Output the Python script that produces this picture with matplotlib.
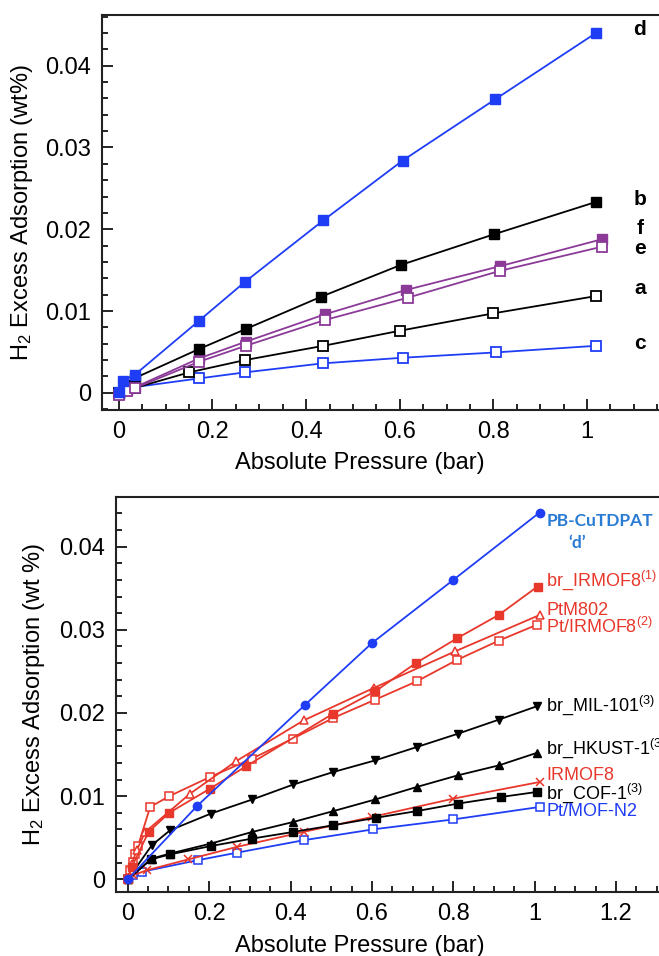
import matplotlib
matplotlib.use("Agg")
import matplotlib.pyplot as plt
from matplotlib.ticker import MultipleLocator

plt.rcParams['font.family'] = ['Liberation Sans', 'DejaVu Sans']
plt.rcParams['mathtext.fontset'] = 'custom'
plt.rcParams['mathtext.rm'] = 'Liberation Sans'
plt.rcParams['mathtext.it'] = 'Liberation Sans'

# ---------------- top panel data ----------------
top_x_d = [0.0, 0.009, 0.034, 0.171, 0.269, 0.437, 0.606, 0.804, 1.019]
top_y_d = [0.0001, 0.0015, 0.0022, 0.0088, 0.01355, 0.0211, 0.0284, 0.0359, 0.0440]
top_x_b = [0.0, 0.015, 0.034, 0.171, 0.271, 0.432, 0.602, 0.802, 1.019]
top_y_b = [0.0, 0.0009, 0.0018, 0.00535, 0.0078, 0.01175, 0.01563, 0.0194, 0.02334]
top_x_f = [0.0, 0.017, 0.035, 0.171, 0.271, 0.440, 0.613, 0.815, 1.031]
top_y_f = [-0.0002, 0.0003, 0.0007, 0.0042, 0.00625, 0.0096, 0.01257, 0.0155, 0.01877]
top_x_e = [0.0, 0.017, 0.035, 0.171, 0.271, 0.440, 0.617, 0.813, 1.032]
top_y_e = [-0.0003, 0.0002, 0.0006, 0.0038, 0.00575, 0.0089, 0.01163, 0.0149, 0.01787]
top_x_a = [0.0, 0.017, 0.034, 0.150, 0.269, 0.437, 0.600, 0.800, 1.020]
top_y_a = [0.0, 0.0003, 0.0006, 0.0025, 0.0040, 0.00575, 0.00759, 0.00972, 0.01184]
top_x_c = [0.0, 0.034, 0.171, 0.269, 0.435, 0.606, 0.805, 1.019]
top_y_c = [0.0, 0.0007, 0.00176, 0.0025, 0.0036, 0.00429, 0.00494, 0.00575]
top_labels = ['d', 'b', 'f', 'e', 'a', 'c']
top_label_y = [0.0444, 0.0236, 0.0201, 0.0177, 0.0127, 0.0060]

# ---------------- bottom panel data ----------------
bx_pb = [0.0, 0.170, 0.436, 0.600, 0.800, 1.012]
by_pb = [0.0, 0.0088, 0.0210, 0.0284, 0.0360, 0.0441]
bx_brirmof8 = [0.0, 0.010, 0.051, 0.102, 0.202, 0.291, 0.504, 0.608, 0.708, 0.810, 0.912, 1.007]
by_brirmof8 = [0.0, 0.0015, 0.0057, 0.0080, 0.0109, 0.0136, 0.0199, 0.0226, 0.0260, 0.0290, 0.0318, 0.0352]
bx_ptm802 = [0.0, 0.010, 0.022, 0.043, 0.153, 0.266, 0.432, 0.604, 0.804, 1.013]
by_ptm802 = [0.0, 0.0019, 0.0035, 0.0057, 0.0103, 0.0142, 0.0191, 0.0230, 0.0274, 0.0318]
bx_ptirmof8 = [0.0, 0.006, 0.012, 0.018, 0.025, 0.055, 0.102, 0.202, 0.305, 0.405, 0.505, 0.608, 0.710, 0.810, 0.912, 1.005]
by_ptirmof8 = [0.0, 0.0011, 0.0021, 0.0030, 0.0040, 0.0087, 0.0100, 0.0123, 0.0145, 0.0169, 0.0194, 0.0216, 0.0238, 0.0264, 0.0287, 0.0306]
bx_mil = [0.0, 0.059, 0.104, 0.204, 0.306, 0.407, 0.505, 0.608, 0.710, 0.811, 0.912, 1.005]
by_mil = [0.0, 0.0041, 0.0059, 0.0079, 0.0096, 0.0114, 0.0129, 0.0143, 0.0159, 0.0175, 0.0192, 0.0208]
bx_hkust = [0.0, 0.059, 0.104, 0.204, 0.306, 0.407, 0.505, 0.608, 0.710, 0.811, 0.912, 1.005]
by_hkust = [0.0, 0.0025, 0.0031, 0.0043, 0.0057, 0.0069, 0.0082, 0.0096, 0.0111, 0.0125, 0.0137, 0.0152]
bx_cof = [0.0, 0.057, 0.104, 0.204, 0.306, 0.407, 0.505, 0.610, 0.710, 0.811, 0.917, 1.005]
by_cof = [0.0, 0.0024, 0.0030, 0.0040, 0.0049, 0.0057, 0.0065, 0.0074, 0.0082, 0.0091, 0.0099, 0.0105]
bx_irmof8 = [0.0, 0.014, 0.047, 0.149, 0.268, 0.432, 0.600, 0.800, 1.012]
by_irmof8 = [0.0, 0.0005, 0.0011, 0.0024, 0.0039, 0.0057, 0.0075, 0.0097, 0.0117]
bx_ptmofn2 = [0.0, 0.014, 0.034, 0.172, 0.268, 0.432, 0.602, 0.800, 1.012]
by_ptmofn2 = [0.0, 0.0005, 0.0009, 0.0023, 0.0032, 0.0047, 0.0060, 0.0072, 0.0087]
bottom_labels = ['br_IRMOF8$^{(1)}$', 'PtM802', 'Pt/IRMOF8$^{(2)}$', 'br_MIL-101$^{(3)}$',
                 'br_HKUST-1$^{(3)}$', 'IRMOF8', 'br_COF-1$^{(3)}$', 'Pt/MOF-N2']
bottom_label_y = [0.0360, 0.0323, 0.0304, 0.0209, 0.0157, 0.0125, 0.0103, 0.0081]

BLUE = '#1f3df5'
PURPLE = '#8b3a98'
RED = '#e8372b'
LBLUE = '#2a7bd3'

fig = plt.figure(figsize=(6.59, 9.56), dpi=100)

def style_axes(ax):
    for s in ['left', 'bottom', 'top']:
        ax.spines[s].set_linewidth(1.5)
        ax.spines[s].set_color('#222222')
    ax.spines['right'].set_visible(False)
    ax.tick_params(which='both', direction='in', top=False, right=False, labelsize=17, width=1.2, pad=8)
    ax.tick_params(which='major', length=8)
    ax.tick_params(which='minor', length=4)
    ax.xaxis.set_major_locator(MultipleLocator(0.2))
    ax.xaxis.set_minor_locator(MultipleLocator(0.05))
    ax.yaxis.set_major_locator(MultipleLocator(0.01))
    ax.yaxis.set_minor_locator(MultipleLocator(0.002))
    ax.xaxis.set_major_formatter(plt.FuncFormatter(lambda v, p: '0' if abs(v) < 1e-9 else ('%g' % round(v, 2))))
    ax.yaxis.set_major_formatter(plt.FuncFormatter(lambda v, p: '0' if abs(v) < 1e-9 else ('%g' % round(v, 3))))

# ---------------- top axes ----------------
ax1 = fig.add_axes([102 / 659, 1 - 410 / 956, (669 - 102) / 659, (410 - 15) / 956])
kw = dict(lw=1.3, ms=7.5, marker='s', clip_on=False)
ax1.plot(top_x_c, top_y_c, color=BLUE, mfc='white', mec=BLUE, mew=1.3, zorder=3, **kw)
ax1.plot(top_x_a, top_y_a, color='black', mfc='white', mec='black', mew=1.3, zorder=3, **kw)
ax1.plot(top_x_e, top_y_e, color=PURPLE, mfc='white', mec=PURPLE, mew=1.3, zorder=4, **kw)
ax1.plot(top_x_f, top_y_f, color=PURPLE, mfc=PURPLE, mec=PURPLE, zorder=3, **kw)
ax1.plot(top_x_b, top_y_b, color='black', mfc='black', mec='black', zorder=3, **kw)
ax1.plot(top_x_d, top_y_d, color=BLUE, mfc=BLUE, mec=BLUE, zorder=5, **kw)
ax1.set_xlim(-0.036, 1.175)
ax1.set_ylim(-0.0021, 0.0462)
style_axes(ax1)
for lab, yv in zip(top_labels, top_label_y):
    ax1.text(1.113, yv, lab, fontsize=15, fontweight='bold', color='black', ha='center', va='center')
ax1.set_xlabel('Absolute Pressure (bar)', fontsize=17)
ax1.set_ylabel(r'H$_\mathrm{2}$ Excess Adsorption (wt%)', fontsize=17)
ax1.xaxis.set_label_coords((360 - 102) / 567, (410 - 452) / 395)
ax1.yaxis.set_label_coords((35 - 102) / 567, 0.5)

# ---------------- bottom axes ----------------
ax2 = fig.add_axes([116 / 659, 1 - 892.3 / 956, (669 - 116) / 659, (892.3 - 496.7) / 956])
kw2 = dict(lw=1.3, ms=6, clip_on=False)
ax2.plot(bx_ptmofn2, by_ptmofn2, color=BLUE, marker='s', mfc='white', mec=BLUE, mew=1.1, **kw2)
ax2.plot(bx_irmof8, by_irmof8, color=RED, marker='x', mec=RED, mew=1.1, **kw2)
ax2.plot(bx_cof, by_cof, color='black', marker='s', mfc='black', mec='black', **kw2)
ax2.plot(bx_hkust, by_hkust, color='black', marker='^', mfc='black', mec='black', **kw2)
ax2.plot(bx_mil, by_mil, color='black', marker='v', mfc='black', mec='black', **kw2)
ax2.plot(bx_ptirmof8, by_ptirmof8, color=RED, marker='s', mfc='white', mec=RED, mew=1.1, **kw2)
ax2.plot(bx_ptm802, by_ptm802, color=RED, marker='^', mfc='white', mec=RED, mew=1.1, **kw2)
ax2.plot(bx_brirmof8, by_brirmof8, color=RED, marker='s', mfc=RED, mec=RED, **kw2)
ax2.plot(bx_pb, by_pb, color=BLUE, marker='o', mfc=BLUE, mec=BLUE, **kw2)
ax2.set_xlim(-0.029, 1.33)
ax2.set_ylim(-0.00156, 0.046)
style_axes(ax2)
bottom_colors = [RED, RED, RED, 'black', 'black', RED, 'black', BLUE]
for lab, yv, col in zip(bottom_labels, bottom_label_y, bottom_colors):
    ax2.text(1.028, yv, lab, fontsize=13, color=col, ha='left', va='center')
ax2.text(1.03, 0.0431, 'PB-CuTDPAT', fontsize=12.5, fontweight='bold', color=LBLUE,
         family=['Lato', 'DejaVu Sans'], ha='left', va='center')
ax2.text(1.104, 0.0404, '\u2018d\u2019', fontsize=12.5, fontweight='bold', color=LBLUE,
         family=['Lato', 'DejaVu Sans'], ha='center', va='center')
ax2.set_xlabel('Absolute Pressure (bar)', fontsize=17)
ax2.set_ylabel(r'H$_\mathrm{2}$ Excess Adsorption (wt %)', fontsize=17)
ax2.xaxis.set_label_coords((360 - 116) / 553, (892.3 - 935) / 395.6)
ax2.yaxis.set_label_coords((47 - 116) / 553, 0.5)

fig.savefig('out.png', dpi=100)
